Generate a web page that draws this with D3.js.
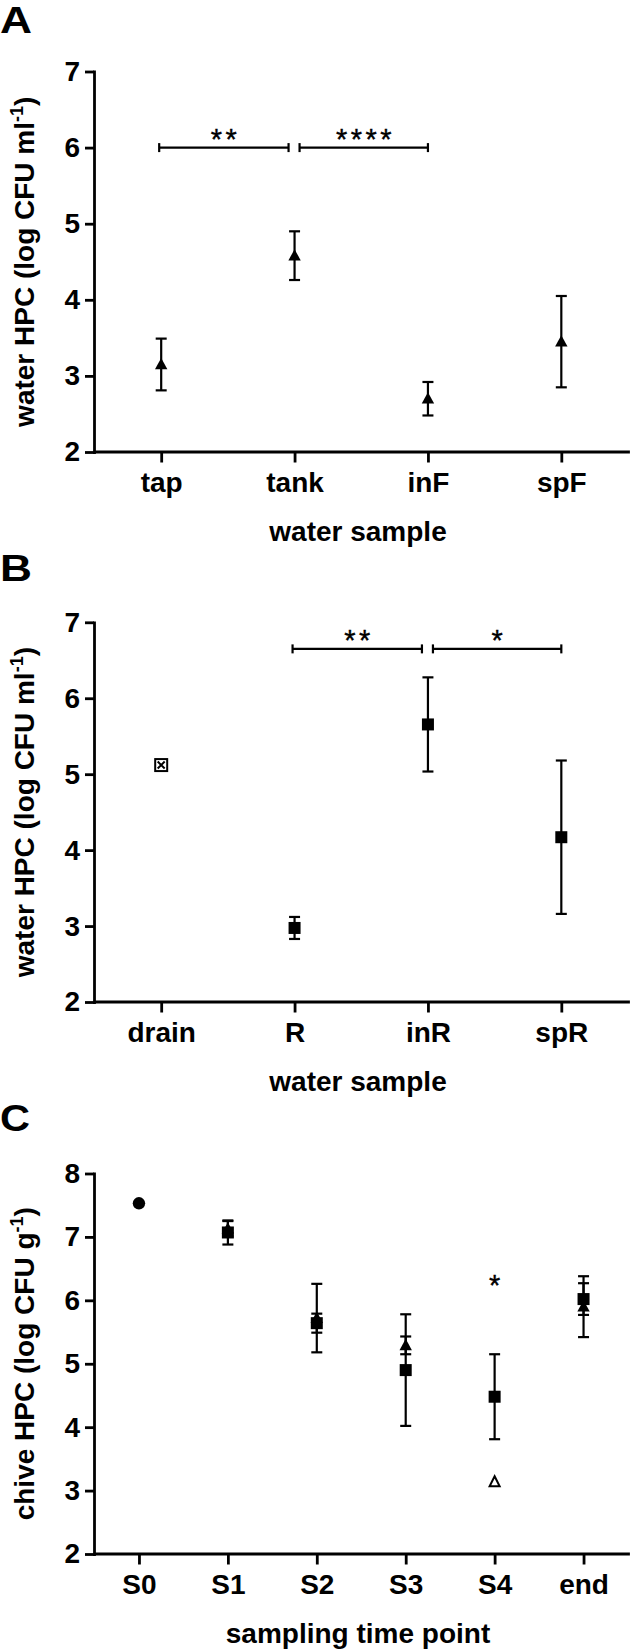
<!DOCTYPE html>
<html><head><meta charset="utf-8">
<script src="https://cdn.jsdelivr.net/npm/d3@7"></script>
<style>
body{margin:0;background:#fff}
svg{display:block}
text{font-family:"Liberation Sans",Arial,sans-serif}
</style>
</head><body>
<svg id="chart" width="630" height="1650"></svg>
<script>
// ---------- Panel A ----------
const catsA = ["tap", "tank", "inF", "spF"];
const meanA = [3.15, 4.58, 2.70, 3.45];
const errA  = [0.34, 0.32, 0.22, 0.60];
const markA = ["tri", "tri", "tri", "tri"];
const sigA  = [{from: "tap", to: "tank", y: 6.0, label: "**"},
               {from: "tank", to: "inF", y: 6.0, label: "****"}];
// ---------- Panel B ----------
const catsB = ["drain", "R", "inR", "spR"];
const meanB = [5.12, 2.975, 5.655, 4.17];
const errB  = [0, 0.145, 0.62, 1.01];
const markB = ["boxX", "square", "square", "square"];
const sigB  = [{from: "R", to: "inR", y: 6.65, label: "**"},
               {from: "inR", to: "spR", y: 6.65, label: "*"}];
// ---------- Panel C ----------
const catsC = ["S0", "S1", "S2", "S3", "S4", "end"];
const circleC    = [7.53, null, null, null, null, null];
const squareC    = [null, 7.07, 5.64, 4.90, 4.48, 6.02];
const squareErrC = [null, 0.19, 0.15, 0.88, 0.67, 0.25];
const triC       = [null, 7.13, 5.72, 5.29, null, 5.90];
const triErrC    = [null, 0.12, 0.54, 0.14, null, 0.48];
const openTriC   = [null, null, null, null, 3.14, null];
const starC      = [{cat: "S4", y: 6.35, label: "*"}];
// ---------- ticks / titles ----------
const ticksAB = [2, 3, 4, 5, 6, 7];
const ticksC  = [2, 3, 4, 5, 6, 7, 8];
const letters = ["A", "B", "C"];
const xTitles = ["water sample", "water sample", "sampling time point"];
const yTitles = [["water HPC (log CFU ml", "-1", ")"],
                 ["water HPC (log CFU ml", "-1", ")"],
                 ["chive HPC (log CFU g", "-1", ")"]];

const svg = d3.select("#chart");
const FONT = 28;
const AX_X = 94;

function makePanel(o) {
  const g = svg.append("g");
  const x = d3.scalePoint().domain(o.cats).range([AX_X + 0.5, 628]).padding(0.5);
  const y = d3.scaleLinear().domain([2, o.ticks[o.ticks.length - 1]]).range([o.bottom, o.top]);

  // panel letter
  g.append("text").attr("x", 0).attr("y", o.letterY)
    .attr("font-size", 36).attr("font-weight", "bold")
    .attr("textLength", o.letterW).attr("lengthAdjust", "spacingAndGlyphs")
    .text(o.letter);

  // axes
  const ya = g.append("g").attr("transform", `translate(${AX_X},0)`)
    .call(d3.axisLeft(y).tickValues(o.ticks).tickSize(9).tickPadding(5).tickSizeOuter(0).tickFormat(d3.format("d")));
  const xa = g.append("g").attr("transform", `translate(0,${o.bottom - 0.5})`)
    .call(d3.axisBottom(x).tickSize(11).tickPadding(10).tickSizeOuter(0));
  [ya, xa].forEach(a => {
    a.selectAll(".domain").attr("stroke", "#000").attr("stroke-width", 2.8).attr("stroke-linecap", "square");
    a.selectAll(".tick line").attr("stroke", "#000").attr("stroke-width", 2.8);
    a.selectAll(".tick text").attr("fill", "#000").attr("font-size", FONT).attr("font-weight", "bold")
      .attr("font-family", '"Liberation Sans",Arial,sans-serif');
  });

  // axis titles
  g.append("text").attr("x", 358).attr("y", o.bottom + 89)
    .attr("text-anchor", "middle").attr("font-size", FONT).attr("font-weight", "bold")
    .text(o.xTitle);
  const yt = g.append("text")
    .attr("transform", `translate(34,${(o.top + o.bottom) / 2}) rotate(-90)`)
    .attr("text-anchor", "middle").attr("font-size", FONT).attr("font-weight", "bold");
  yt.append("tspan").text(o.yTitle[0]);
  yt.append("tspan").attr("font-size", 18).attr("dy", -11).text(o.yTitle[1]);
  yt.append("tspan").attr("font-size", FONT).attr("dy", 11).text(o.yTitle[2]);

  return {g, x, y};
}

function errorBar(p, cat, m, e) {
  if (m == null || !e) return;
  const cx = p.x(cat), y1 = p.y(m + e), y2 = p.y(m - e);
  const gg = p.g.append("g").attr("stroke", "#000").attr("stroke-width", 2.2);
  gg.append("line").attr("x1", cx).attr("x2", cx).attr("y1", y1).attr("y2", y2);
  gg.append("line").attr("x1", cx - 5.5).attr("x2", cx + 5.5).attr("y1", y1).attr("y2", y1);
  gg.append("line").attr("x1", cx - 5.5).attr("x2", cx + 5.5).attr("y1", y2).attr("y2", y2);
}

function marker(p, cat, m, type) {
  if (m == null) return;
  const cx = p.x(cat), cy = p.y(m);
  const g = p.g;
  if (type === "tri") {
    g.append("path").attr("d", `M${cx},${cy - 6.5}L${cx + 6.2},${cy + 4.8}L${cx - 6.2},${cy + 4.8}Z`).attr("fill", "#000");
  } else if (type === "openTri") {
    g.append("path").attr("d", `M${cx},${cy - 5.5}L${cx + 5},${cy + 4.5}L${cx - 5},${cy + 4.5}Z`)
      .attr("fill", "#fff").attr("stroke", "#000").attr("stroke-width", 2);
  } else if (type === "square") {
    g.append("rect").attr("x", cx - 6).attr("y", cy - 6).attr("width", 12).attr("height", 12).attr("fill", "#000");
  } else if (type === "circle") {
    g.append("circle").attr("cx", cx).attr("cy", cy).attr("r", 6.2).attr("fill", "#000");
  } else if (type === "boxX") {
    g.append("rect").attr("x", cx - 6).attr("y", cy - 6).attr("width", 12).attr("height", 12)
      .attr("fill", "#fff").attr("stroke", "#000").attr("stroke-width", 2);
    g.append("path").attr("d", `M${cx - 3.5},${cy - 3.5}L${cx + 3.5},${cy + 3.5}M${cx + 3.5},${cy - 3.5}L${cx - 3.5},${cy + 3.5}`)
      .attr("stroke", "#000").attr("stroke-width", 2);
  }
}

function sigBrackets(p, list) {
  list.forEach((s, i) => {
    const sharedLeft = i > 0 && list[i - 1].to === s.from;
    const sharedRight = i < list.length - 1 && list[i + 1].from === s.to;
    const x1 = p.x(s.from) + (sharedLeft ? 5 : -2);
    const x2 = p.x(s.to) + (sharedRight ? -6 : 0);
    const yy = p.y(s.y);
    const gg = p.g.append("g").attr("stroke", "#000").attr("stroke-width", 2.2);
    gg.append("line").attr("x1", x1).attr("x2", x2).attr("y1", yy).attr("y2", yy);
    gg.append("line").attr("x1", x1).attr("x2", x1).attr("y1", yy - 4.5).attr("y2", yy + 4.5);
    gg.append("line").attr("x1", x2).attr("x2", x2).attr("y1", yy - 4.5).attr("y2", yy + 4.5);
    starText(p, (x1 + x2) / 2, yy + 1, s.label);
  });
}

function starText(p, cx, baseY, label) {
  const ls = 3.5;
  p.g.append("text").attr("x", cx + ls / 2).attr("y", baseY)
    .attr("text-anchor", "middle").attr("font-size", 29).attr("letter-spacing", ls)
    .attr("stroke", "#000").attr("stroke-width", 0.4)
    .text(label);
}

// Panel A
const pA = makePanel({cats: catsA, ticks: ticksAB, top: 71.5, bottom: 452, letter: letters[0], letterY: 33, letterW: 32,
  xTitle: xTitles[0], yTitle: yTitles[0]});
catsA.forEach((c, i) => errorBar(pA, c, meanA[i], errA[i]));
catsA.forEach((c, i) => marker(pA, c, meanA[i], markA[i]));
sigBrackets(pA, sigA);

// Panel B
const pB = makePanel({cats: catsB, ticks: ticksAB, top: 622.3, bottom: 1002, letter: letters[1], letterY: 581, letterW: 32,
  xTitle: xTitles[1], yTitle: yTitles[1]});
catsB.forEach((c, i) => errorBar(pB, c, meanB[i], errB[i]));
catsB.forEach((c, i) => marker(pB, c, meanB[i], markB[i]));
sigBrackets(pB, sigB);

// Panel C
const pC = makePanel({cats: catsC, ticks: ticksC, top: 1173.5, bottom: 1554, letter: letters[2], letterY: 1130.5, letterW: 30,
  xTitle: xTitles[2], yTitle: yTitles[2]});
catsC.forEach((c, i) => errorBar(pC, c, triC[i], triErrC[i]));
catsC.forEach((c, i) => errorBar(pC, c, squareC[i], squareErrC[i]));
catsC.forEach((c, i) => marker(pC, c, triC[i], "tri"));
catsC.forEach((c, i) => marker(pC, c, squareC[i], "square"));
catsC.forEach((c, i) => marker(pC, c, circleC[i], "circle"));
catsC.forEach((c, i) => marker(pC, c, openTriC[i], "openTri"));
starC.forEach(s => starText(pC, pC.x(s.cat), pC.y(s.y) + 17, s.label));
</script>
</body></html>
